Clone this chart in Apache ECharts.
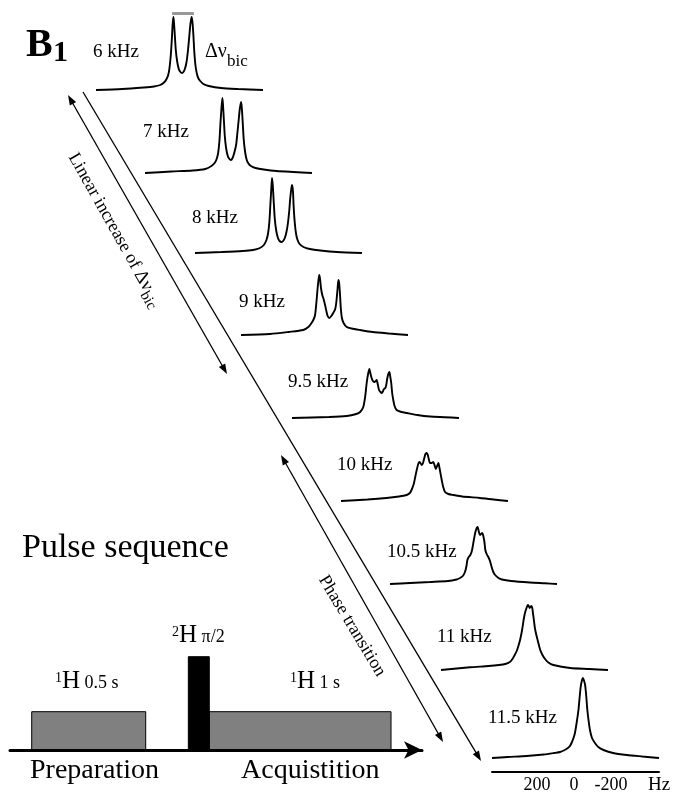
<!DOCTYPE html>
<html><head><meta charset="utf-8">
<script src="https://cdn.jsdelivr.net/npm/echarts@6/dist/echarts.min.js"></script>
<style>html,body{margin:0;padding:0;background:#fff}#c{width:674px;height:795px}</style>
</head><body><div id="c"></div>
<script>
// ---------- data (frequency in Hz, intensity in arbitrary units) ----------
const spectrumLabels = ['6 kHz','7 kHz','8 kHz','9 kHz','9.5 kHz','10 kHz','10.5 kHz','11 kHz','11.5 kHz'];
const spec_6 = [[443,0],[300,1],[186,2.5],[130,3.5],[96,5],[73,8],[62,11],[53,15],[46,22],[39,35],[33,52],[29,66],[25,73],[22,68],[17,54],[12,40],[5,29],[-4,21],[-13,18],[-21,17],[-29,18],[-37,21],[-46,28],[-54,40],[-61,54],[-67,66],[-73,73],[-78,68],[-83,55],[-88,38],[-94,25],[-101,17],[-109,12],[-120,9],[-137,6],[-166,4],[-233,2],[-324,1],[-459,0]];
const spec_7 = [[443,0],[300,1.5],[186,2.5],[118,4],[84,7],[67,10],[56,14],[48,20],[41,32],[36,48],[30,65],[25,75],[22,69],[17,53],[12,37],[5,25],[-4,17],[-13,14],[-21,13],[-30,15],[-39,20],[-49,28],[-56,40],[-63,53],[-69,64],[-76,71],[-80,65],[-85,50],[-90,34],[-97,22],[-105,14],[-114,10],[-129,7],[-154,5],[-199,3.5],[-268,2],[-358,1],[-459,0]];
const spec_8 = [[443,0],[300,1],[186,2],[130,3],[92,5],[71,8],[57,13],[48,20],[41,32],[36,48],[31,64],[27,75],[23,68],[18,52],[12,34],[4,22],[-5,15],[-14,12],[-24,11],[-33,12],[-42,15],[-51,21],[-59,30],[-66,42],[-71,54],[-77,64],[-81,68],[-86,62],[-90,46],[-96,30],[-103,19],[-111,13],[-122,9],[-143,6],[-177,4],[-234,2.5],[-324,1],[-459,0]];
const spec_9 = [[443,0],[286,1],[186,3],[107,5],[79,8],[62,12],[50,16],[43,20],[37,30],[30,45],[24,56],[20,60],[16,56],[11,47],[4,40],[-3,36],[-11,30],[-18,24],[-25,19],[-34,17],[-45,19],[-55,22],[-66,26],[-72,33],[-78,45],[-83,55],[-87,52],[-92,40],[-96,27],[-102,17],[-111,12],[-128,8],[-154,6.5],[-199,5],[-268,3],[-358,1.5],[-459,0]];
const spec_9_5 = [[443,0],[243,1],[147,2],[96,4],[75,6],[58,11],[48,21],[39,36],[31,45],[25,49],[20,45],[13,40],[6,37],[-2,36],[-9,37],[-14,38],[-21,33],[-27,28],[-35,26],[-42,25],[-49,27],[-54,29],[-61,30],[-66,33],[-71,39],[-77,44],[-83,46],[-88,41],[-93,35],[-98,25],[-104,18],[-111,12],[-122,8],[-148,6],[-177,5],[-234,3],[-303,1.5],[-381,0.8],[-459,0]];
const spec_10 = [[443,0],[300,1.5],[197,3],[130,4.5],[88,6],[71,8],[62,11],[50,17],[41,25],[34,31],[26,37],[20,39],[14,38],[7,36],[0,38],[-7,43],[-13,47],[-20,48],[-26,46],[-31,42],[-38,38],[-46,38],[-55,39],[-62,36],[-69,32],[-76,35],[-83,38],[-89,33],[-95,27],[-101,21],[-109,14],[-119,9],[-137,7],[-164,6],[-211,4.5],[-308,3],[-381,1.5],[-459,0]];
const spec_10_5 = [[443,0],[334,1],[227,2],[130,3],[84,4.5],[65,6],[50,8],[38,12],[30,18],[25,24],[18,27],[9,29],[1,33],[-8,42],[-17,51],[-25,56],[-30,57],[-36,53],[-43,49],[-49,50],[-55,51],[-61,48],[-67,42],[-72,34],[-79,30],[-88,27],[-97,23],[-106,17],[-115,12],[-125,9],[-143,6],[-161,4.5],[-211,3],[-313,1.5],[-393,0.7],[-459,0]];
const spec_11 = [[443,0],[286,2.7],[186,4],[130,5],[96,6],[71,8],[57,11],[45,15],[34,19],[25,24],[16,30],[7,38],[0,46],[-5,52],[-12,58],[-19,62],[-26,65],[-31,64],[-36,62],[-41,63],[-45,64],[-50,62],[-55,55],[-60,48],[-64,42],[-72,35],[-83,27],[-93,20],[-105,15],[-119,11],[-137,7.5],[-164,5],[-254,2],[-358,1],[-459,0]];
const spec_11_5 = [[443,0],[357,1],[256,2],[164,3.5],[107,5],[75,6],[50,8],[33,10],[22,12],[11,16],[1,21],[-5,25],[-14,35],[-24,48],[-30,60],[-36,71],[-42,77],[-48,80],[-53,78],[-60,73],[-66,62],[-72,48],[-79,37],[-86,28],[-97,20],[-113,15],[-131,11],[-159,8],[-211,5],[-285,3],[-370,1.5],[-459,0]];
const splittingMarker = [32, -86];   // Δν_bic bar over the 6 kHz doublet
const freqTicks = [200, 0, -200];
const freqRange = [-459, 443];
// pulse sequence (schematic time units): preparation 1H, acquisition 1H, 2H pulse
const pulseNames = ['1H 0.5 s', '1H 1 s', '2H π/2'];
const pulseStart = [5.27, 48.37, 43.28];
const pulseEnd = [32.94, 92.48, 48.37];
const pulseLevel = [38.3, 38.3, 93.3];

// ---------- build ----------
const spectra = [spec_6, spec_7, spec_8, spec_9, spec_9_5, spec_10, spec_10_5, spec_11, spec_11_5];
const FF = "'Liberation Serif','Times New Roman',serif";
const gl = [96,145,195,241,292,341,390,441,492];
const gb = [90,173,253,335,418,501,584,670,758];
const lx = [93,143,192,239,288,337,387,437,488];
const ly = [52,132,218,302,382,465,552,637,718];

const mctx = document.createElement('canvas').getContext('2d');
function tw(t, s, w){ mctx.font = (w||'normal') + ' ' + s + 'px ' + FF; return mctx.measureText(t).width; }
function txt(x, y, t, s, opt){
  opt = opt || {};
  const al = opt.align || 'left';
  return {type:'text', x:x, y:y, silent:true, z:10, style:{text:t, fontSize:s, fontFamily:FF, fontWeight:opt.weight||'normal', fill:'#000', align:al, verticalAlign:'middle', textAlign:al, textVerticalAlign:'middle'}};
}
function compound(x, y, parts, opt){
  opt = opt || {};
  const total = parts.reduce((a,p)=>a+tw(p.t,p.s,p.w),0);
  let cx = opt.anchor === 'center' ? -total/2 : 0;
  const children = parts.map(p=>{ const el = txt(cx, p.dy||0, p.t, p.s, {weight:p.w}); cx += tw(p.t,p.s,p.w); return el; });
  return {type:'group', x:x, y:y, rotation:(opt.angle||0)*Math.PI/180, children:children};
}
function arrow(x1,y1,x2,y2,startHead,endHead){
  const L = 10, W = 3.6;
  const dx = x2-x1, dy = y2-y1, len = Math.hypot(dx,dy), ux = dx/len, uy = dy/len, nx = -uy, ny = ux;
  const els = [];
  const sx = startHead ? x1+ux*L*0.8 : x1, sy = startHead ? y1+uy*L*0.8 : y1;
  const ex = endHead ? x2-ux*L*0.8 : x2, ey = endHead ? y2-uy*L*0.8 : y2;
  els.push({type:'line', silent:true, shape:{x1:sx,y1:sy,x2:ex,y2:ey}, style:{stroke:'#000', lineWidth:1.3}});
  const head = (tx,ty,dirx,diry)=>({type:'polygon', silent:true, shape:{points:[[tx,ty],[tx-dirx*L+nx*W, ty-diry*L+ny*W],[tx-dirx*L-nx*W, ty-diry*L-ny*W]]}, style:{fill:'#000'}});
  if (endHead) els.push(head(x2,y2,ux,uy));
  if (startHead) els.push(head(x1,y1,-ux,-uy));
  return els;
}

const grids = [], xAxes = [], yAxes = [], series = [];
spectra.forEach((d,i)=>{
  const last = i === spectra.length-1;
  grids.push({left:gl[i], top:gb[i]-90, width:167, height:90});
  xAxes.push({gridIndex:i, type:'value', min:freqRange[0], max:freqRange[1], inverse:true, show:last, offset:last?14:0,
    splitLine:{show:false}, axisTick:{show:false},
    axisLine:{show:true, onZero:false, lineStyle:{color:'#000', width:2}},
    axisLabel:{customValues:freqTicks, color:'#000', fontFamily:FF, fontSize:18, margin:4}});
  yAxes.push({gridIndex:i, type:'value', min:0, max:90, show:false});
  const s = {type:'line', xAxisIndex:i, yAxisIndex:i, data:d, showSymbol:false, symbol:'none', smooth:0.25,
    lineStyle:{color:'#000', width:1.9}, silent:true, animation:false};
  if (i === 0) {
    s.markLine = {silent:true, symbol:['none','none'], label:{show:false}, animation:false,
      lineStyle:{color:'#999', width:3, type:'solid'},
      data:[[{coord:[splittingMarker[0], 77]}, {coord:[splittingMarker[1], 77]}]]};
  }
  series.push(s);
});
// pulse-sequence grid
const pg = spectra.length;
grids.push({left:10, top:650, width:412, height:100});
xAxes.push({gridIndex:pg, type:'value', min:0, max:100, z:5, splitLine:{show:false}, axisTick:{show:false}, axisLabel:{show:false},
  axisLine:{show:true, onZero:false, symbol:['none','arrow'], symbolSize:[13,18], lineStyle:{color:'#000', width:3}}});
yAxes.push({gridIndex:pg, type:'value', min:0, max:100, show:false});
series.push({type:'custom', xAxisIndex:pg, yAxisIndex:pg, silent:true, animation:false,
  data: pulseStart.map((st,k)=>[st, pulseEnd[k], pulseLevel[k], pulseNames[k].indexOf('π')>=0 ? 1 : 0]),
  renderItem:(params, api)=>{
    const p0 = api.coord([api.value(0), api.value(2)]);
    const p1 = api.coord([api.value(1), 0]);
    const black = api.value(3) === 1;
    return {type:'rect', shape:{x:p0[0], y:p0[1], width:p1[0]-p0[0], height:p1[1]-p0[1]},
      style:{fill: black ? '#000' : '#808080', stroke:'#000', lineWidth:1}};
  }});

const elements = [];
elements.push(txt(26,46,'B',40,{weight:'bold'}));
elements.push(txt(53,53,'1',30,{weight:'bold'}));
spectrumLabels.forEach((t,i)=>elements.push(txt(lx[i], ly[i], t, 19)));
elements.push(compound(205,52,[{t:'Δν',s:20},{t:'bic',s:17,dy:9.5}]));
elements.push(...arrow(68,95,227,374,true,true));
elements.push(...arrow(83,92,481,761,false,true));
elements.push(...arrow(281,455,443,742,true,true));
elements.push(compound(115,230,[{t:'Linear increase of ',s:18},{t:'Δν',s:19},{t:'bic',s:15,dy:6}],{anchor:'center', angle:-60.6}));
elements.push(compound(352,626,[{t:'Phase transition',s:18}],{anchor:'center', angle:-59}));
elements.push(txt(22,548,'Pulse sequence',34));
elements.push(compound(55,681,[{t:'1',s:14,dy:-3},{t:'H',s:25},{t:' 0.5 s',s:18,dy:2}]));
elements.push(compound(290,681,[{t:'1',s:14,dy:-3},{t:'H',s:25},{t:' 1 s',s:18,dy:2}]));
elements.push(compound(172,635,[{t:'2',s:14,dy:-3},{t:'H',s:25},{t:' π/2',s:18,dy:2}]));
elements.push(txt(30,771,'Preparation',28));
elements.push(txt(241,771,'Acquistition',28));
elements.push(txt(659,785,'Hz',19,{align:'center'}));

const chart = echarts.init(document.getElementById('c'), null, {renderer:'canvas'});
chart.setOption({
  animation:false,
  backgroundColor:'#fff',
  grid:grids, xAxis:xAxes, yAxis:yAxes, series:series,
  graphic:{elements:elements}
});
</script>
</body></html>
